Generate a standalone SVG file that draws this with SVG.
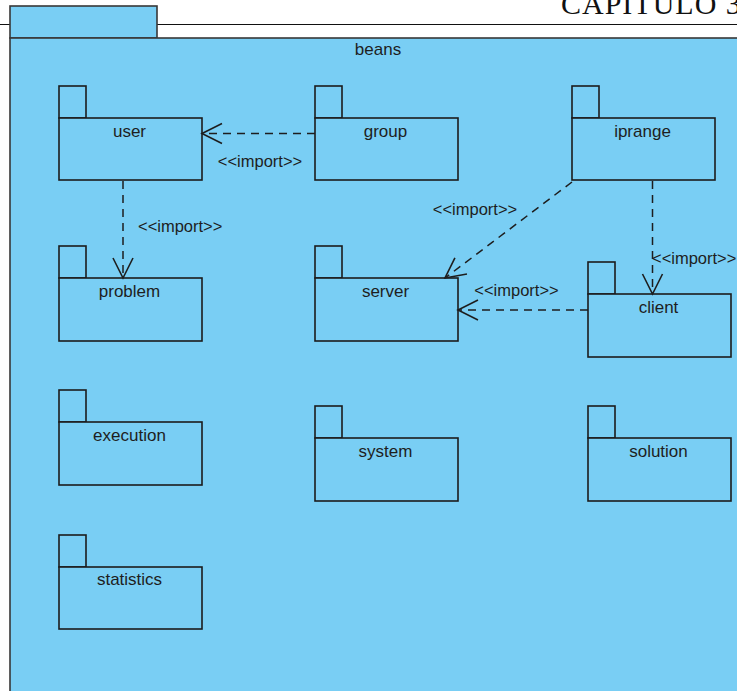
<svg xmlns="http://www.w3.org/2000/svg" width="737" height="691" viewBox="0 0 737 691">
  <style>
    .pkg rect { fill: #79cef4; stroke: #1c1c1c; stroke-width: 1.6; }
    .frame { fill: #79cef4; stroke: #383838; stroke-width: 1.6; }
    .name { font-family: "Liberation Sans", Arial, sans-serif; font-size: 17px; fill: #1e1e1e; text-anchor: middle; }
    .dep { fill: none; stroke: #1e1e1e; stroke-width: 1.5; stroke-dasharray: 8 6; }
    .lbl { font-family: "Liberation Sans", Arial, sans-serif; font-size: 16.5px; fill: #1e1e1e; }
    .hdr { font-family: "Liberation Serif", "Times New Roman", serif; font-size: 30px; fill: #111; letter-spacing: 1px; }
  </style>
  <defs>
    <marker id="open" markerUnits="userSpaceOnUse" markerWidth="26" markerHeight="26" viewBox="-23 -13 26 26" refX="0" refY="0" orient="auto">
      <path d="M-20,-10 L0,0 L-20,10" fill="none" stroke="#1e1e1e" stroke-width="1.6" stroke-dasharray="none"/>
    </marker>
  </defs>

  <rect width="737" height="691" fill="#ffffff"/>

  <!-- page header -->
  <text class="hdr" x="561" y="13.5">CAPITULO 3</text>
  <line x1="0" y1="24.5" x2="737" y2="24.5" stroke="#111" stroke-width="1.2"/>

  <!-- enclosing package "beans" -->
  <g id="beans">
    <rect class="frame" x="10" y="6" width="147" height="32"/>
    <rect class="frame" x="10" y="38" width="740" height="670"/>
    <text class="name" x="378" y="55">beans</text>
  </g>

  <g id="user" class="pkg">
    <rect x="59" y="86" width="27" height="32"/>
    <rect x="59" y="118" width="143" height="62"/>
    <text class="name" x="129.5" y="137">user</text>
  </g>
  <g id="group" class="pkg">
    <rect x="315" y="86" width="27" height="32"/>
    <rect x="315" y="118" width="143" height="62"/>
    <text class="name" x="385.5" y="137">group</text>
  </g>
  <g id="iprange" class="pkg">
    <rect x="572" y="86" width="27" height="32"/>
    <rect x="572" y="118" width="143" height="62"/>
    <text class="name" x="642.5" y="137">iprange</text>
  </g>
  <g id="problem" class="pkg">
    <rect x="59" y="246" width="27" height="32"/>
    <rect x="59" y="278" width="143" height="63"/>
    <text class="name" x="129.5" y="297">problem</text>
  </g>
  <g id="server" class="pkg">
    <rect x="315" y="246" width="27" height="32"/>
    <rect x="315" y="278" width="143" height="63"/>
    <text class="name" x="385.5" y="297">server</text>
  </g>
  <g id="client" class="pkg">
    <rect x="588" y="262" width="27" height="32"/>
    <rect x="588" y="294" width="143" height="63"/>
    <text class="name" x="658.5" y="313">client</text>
  </g>
  <g id="execution" class="pkg">
    <rect x="59" y="390" width="27" height="32"/>
    <rect x="59" y="422" width="143" height="63"/>
    <text class="name" x="129.5" y="441">execution</text>
  </g>
  <g id="system" class="pkg">
    <rect x="315" y="406" width="27" height="32"/>
    <rect x="315" y="438" width="143" height="63"/>
    <text class="name" x="385.5" y="457">system</text>
  </g>
  <g id="solution" class="pkg">
    <rect x="588" y="406" width="27" height="32"/>
    <rect x="588" y="438" width="143" height="63"/>
    <text class="name" x="658.5" y="457">solution</text>
  </g>
  <g id="statistics" class="pkg">
    <rect x="59" y="535" width="27" height="32"/>
    <rect x="59" y="567" width="143" height="62"/>
    <text class="name" x="129.5" y="585">statistics</text>
  </g>

  <!-- import dependencies -->
  <g id="connectors">
    <path class="dep" d="M315,133.5 L202,133.5" marker-end="url(#open)"/>
    <text class="lbl" x="260" y="167" text-anchor="middle">&lt;&lt;import&gt;&gt;</text>

    <path class="dep" d="M123,181 L123,278" marker-end="url(#open)"/>
    <text class="lbl" x="138" y="232">&lt;&lt;import&gt;&gt;</text>

    <path class="dep" d="M572,182 L445,278" marker-end="url(#open)"/>
    <text class="lbl" x="475" y="215" text-anchor="middle">&lt;&lt;import&gt;&gt;</text>

    <path class="dep" d="M652.5,181 L652.5,294" marker-end="url(#open)"/>
    <text class="lbl" x="652" y="264">&lt;&lt;import&gt;&gt;</text>

    <path class="dep" d="M588,310 L458,310" marker-end="url(#open)"/>
    <text class="lbl" x="516.5" y="296" text-anchor="middle">&lt;&lt;import&gt;&gt;</text>
  </g>
</svg>
